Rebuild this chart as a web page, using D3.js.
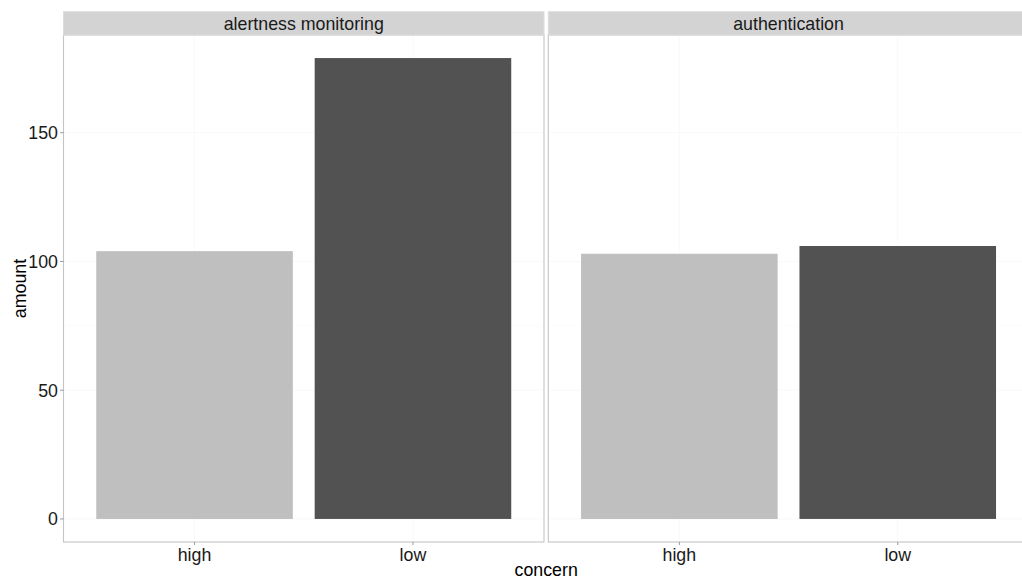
<!DOCTYPE html>
<html>
<head>
<meta charset="utf-8">
<script src="https://cdn.jsdelivr.net/npm/d3@7/dist/d3.min.js"></script>
<style>
  html, body { margin: 0; padding: 0; background: #fff; }
  svg text { font-family: "Liberation Sans", Arial, sans-serif; }
</style>
</head>
<body>
<svg id="chart" width="1022" height="580"></svg>
<script>
const facets = ["alertness monitoring", "authentication"];
const categories = ["high", "low"];
const amountHigh = [104, 103];
const amountLow = [179, 106];
const yTicks = [0, 50, 100, 150];
const fillColors = ["#bfbfbf", "#525252"];

const data = [];
facets.forEach((f, i) => {
  data.push({facet: f, concern: "high", amount: amountHigh[i]});
  data.push({facet: f, concern: "low", amount: amountLow[i]});
});

const svg = d3.select("#chart");
const panelW = 480.5;
const panelLeft = [63.5, 548.3];
const plotTop = 35, plotBottom = 542;
const stripTop = 11.7;
const fs = 17.8;

const maxV = d3.max(data, d => d.amount);
const y = d3.scaleLinear().domain([-0.05 * maxV, 1.05 * maxV]).range([plotBottom, plotTop]);
const color = d3.scaleOrdinal().domain(categories).range(fillColors);

facets.forEach((f, i) => {
  const x0 = panelLeft[i];
  // ggplot discrete scale: expansion 0.6 on each side, bar width 0.9
  const x = d3.scalePoint().domain(categories).range([x0, x0 + panelW]).padding(0.6);
  const unit = x.step();
  const cx = c => x(c);
  const g = svg.append("g");

  // very faint grid lines
  const minor = [25, 75, 125, 175];
  g.selectAll(".gminor").data(minor).enter().append("line")
    .attr("x1", x0).attr("x2", x0 + panelW)
    .attr("y1", d => y(d)).attr("y2", d => y(d))
    .attr("stroke", "#fbfbfb").attr("stroke-width", 0.6);
  g.selectAll(".gmajor").data(yTicks).enter().append("line")
    .attr("x1", x0).attr("x2", x0 + panelW)
    .attr("y1", d => y(d)).attr("y2", d => y(d))
    .attr("stroke", "#f9f9f9").attr("stroke-width", 1);
  g.selectAll(".gx").data(categories).enter().append("line")
    .attr("x1", d => cx(d)).attr("x2", d => cx(d))
    .attr("y1", plotTop).attr("y2", plotBottom)
    .attr("stroke", "#f9f9f9").attr("stroke-width", 1);

  // bars
  g.selectAll(".bar").data(data.filter(d => d.facet === f)).enter().append("rect")
    .attr("x", d => cx(d.concern) - 0.45 * unit)
    .attr("width", 0.9 * unit)
    .attr("y", d => y(d.amount))
    .attr("height", d => y(0) - y(d.amount))
    .attr("fill", d => color(d.concern));

  // panel border
  g.append("rect").attr("x", x0).attr("y", plotTop).attr("width", panelW).attr("height", plotBottom - plotTop)
    .attr("fill", "none").attr("stroke", "#c4c4c4").attr("stroke-width", 1.1);

  // strip
  g.append("rect").attr("x", x0).attr("y", stripTop).attr("width", panelW).attr("height", plotTop - stripTop)
    .attr("fill", "#d3d3d3").attr("stroke", "#dcdcdc").attr("stroke-width", 1);
  g.append("text").attr("x", x0 + panelW / 2).attr("y", (stripTop + plotTop) / 2)
    .attr("text-anchor", "middle").attr("dy", "0.35em")
    .attr("font-size", fs).attr("fill", "#1a1a1a").text(f);

  // x axis ticks and labels
  g.selectAll(".xt").data(categories).enter().append("line")
    .attr("x1", d => cx(d)).attr("x2", d => cx(d))
    .attr("y1", plotBottom).attr("y2", plotBottom + 3)
    .attr("stroke", "#999").attr("stroke-width", 1);
  g.selectAll(".xl").data(categories).enter().append("text")
    .attr("x", d => cx(d)).attr("y", 561)
    .attr("text-anchor", "middle").attr("font-size", fs).attr("fill", "#1a1a1a")
    .text(d => d);
});

// y axis
const ya = svg.append("g");
ya.selectAll(".yt").data(yTicks).enter().append("line")
  .attr("x1", panelLeft[0] - 3.5).attr("x2", panelLeft[0])
  .attr("y1", d => y(d)).attr("y2", d => y(d))
  .attr("stroke", "#999").attr("stroke-width", 1);
ya.selectAll(".yl").data(yTicks).enter().append("text")
  .attr("x", panelLeft[0] - 5.5).attr("y", d => y(d))
  .attr("dy", "0.36em").attr("text-anchor", "end")
  .attr("font-size", fs).attr("fill", "#1a1a1a").text(d => d);

// axis titles
svg.append("text").attr("transform", `translate(26,${(plotTop + plotBottom) / 2}) rotate(-90)`)
  .attr("text-anchor", "middle").attr("font-size", fs).attr("fill", "#000").text("amount");
svg.append("text").attr("x", (panelLeft[0] + panelLeft[1] + panelW) / 2).attr("y", 576)
  .attr("text-anchor", "middle").attr("font-size", fs).attr("fill", "#000").text("concern");
</script>
</body>
</html>
